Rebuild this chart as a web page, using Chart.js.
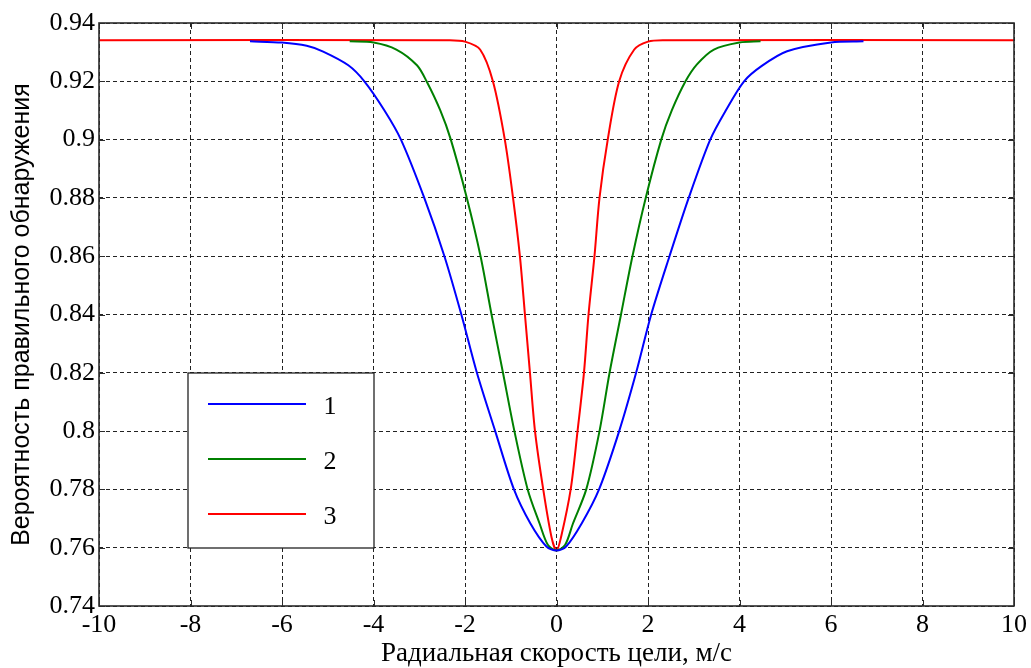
<!DOCTYPE html>
<html>
<head>
<meta charset="utf-8">
<script src="https://cdn.jsdelivr.net/npm/chart.js@4"></script>
<style>
  body { margin: 0; background: #fff; }
  #wrap { width: 1031px; height: 668px; }
</style>
</head>
<body>
<div id="wrap"><canvas id="prob-chart"></canvas></div>
<script>
// values
const seriesNames = ['1', '2', '3'];

const blueX = [-6.70, -6.0, -5.46, -5.1, -4.55, -4.2, -3.76, -3.40, -2.89, -2.45, -2.08, -1.74, -1.34, -0.93, -0.57, -0.22, 0,
               0.21, 0.55, 0.93, 1.37, 1.74, 2.07, 2.47, 2.89, 3.36, 3.70, 4.10, 4.48, 5.04, 6.0, 6.71];
const blueY = [0.9337, 0.9333, 0.9322, 0.9302, 0.9255, 0.92, 0.91, 0.90, 0.88, 0.86, 0.84, 0.82, 0.80, 0.78, 0.7683, 0.7604, 0.759,
               0.7604, 0.7683, 0.78, 0.80, 0.82, 0.84, 0.86, 0.88, 0.90, 0.91, 0.92, 0.9252, 0.9303, 0.9333, 0.9337];

const greenX = [-4.52, -4.0, -3.5, -3.05, -2.84, -2.54, -2.31, -1.96, -1.66, -1.42, -1.17, -0.92, -0.63, -0.37, -0.19, 0,
                0.19, 0.36, 0.65, 0.94, 1.16, 1.41, 1.66, 1.95, 2.29, 2.52, 2.82, 3.07, 3.44, 4.0, 4.46];
const greenY = [0.9337, 0.9333, 0.9309, 0.9255, 0.92, 0.91, 0.90, 0.88, 0.86, 0.84, 0.82, 0.80, 0.78, 0.7683, 0.761, 0.759,
                0.761, 0.7683, 0.78, 0.80, 0.82, 0.84, 0.86, 0.88, 0.90, 0.91, 0.92, 0.9258, 0.9309, 0.9333, 0.9337];

const redX = [-10, -2.33, -2.0, -1.67, -1.39, -1.13, -0.95, -0.80, -0.69, -0.58, -0.47, -0.29, -0.11, 0,
              0.10, 0.31, 0.46, 0.60, 0.70, 0.83, 0.94, 1.12, 1.37, 1.70, 2.0, 2.32, 10];
const redY = [0.9341, 0.9341, 0.9336, 0.9309, 0.92, 0.90, 0.88, 0.86, 0.84, 0.82, 0.80, 0.78, 0.7637, 0.759,
              0.7637, 0.78, 0.80, 0.82, 0.84, 0.86, 0.88, 0.90, 0.92, 0.9309, 0.9336, 0.9341, 0.9341];

const xTicks = [-10, -8, -6, -4, -2, 0, 2, 4, 6, 8, 10];
const yTicks = [0.74, 0.76, 0.78, 0.8, 0.82, 0.84, 0.86, 0.88, 0.9, 0.92, 0.94];
const yTickLabels = ['0.74', '0.76', '0.78', '0.8', '0.82', '0.84', '0.86', '0.88', '0.9', '0.92', '0.94'];

const xTitle = 'Радиальная скорость цели, м/с';
const yTitle = 'Вероятность правильного обнаружения';

function toPoints(xs, ys) {
    let pts = [];
    for (let i = 0; i < xs.length; i++) {
        pts.push({x: xs[i], y: ys[i]});
    }
    return pts;
}

const serif = '"Liberation Serif", "Times New Roman", serif';

// frame round the plot, inward ticks and the boxed legend
const framePlugin = {
    id: 'frame',
    afterDatasetsDraw(chart) {
        const ctx = chart.ctx;
        const a = chart.chartArea;
        const xs = chart.scales.x, ys = chart.scales.y;
        ctx.save();
        ctx.strokeStyle = '#2b2b2b';
        ctx.lineWidth = 1;
        ctx.beginPath();
        xTicks.forEach(v => {
            const px = Math.round(xs.getPixelForValue(v)) + 0.5;
            ctx.moveTo(px, a.bottom); ctx.lineTo(px, a.bottom - 6);
            ctx.moveTo(px, a.top); ctx.lineTo(px, a.top + 6);
        });
        yTicks.forEach(v => {
            const py = Math.round(ys.getPixelForValue(v)) + 0.5;
            ctx.moveTo(a.left, py); ctx.lineTo(a.left + 6, py);
            ctx.moveTo(a.right, py); ctx.lineTo(a.right - 6, py);
        });
        ctx.stroke();
        ctx.lineWidth = 1.6;
        ctx.strokeRect(a.left, a.top, a.right - a.left, a.bottom - a.top);

        // legend
        const bx = 188, by = 373, bw = 186, bh = 175;
        ctx.fillStyle = '#fff';
        ctx.fillRect(bx, by, bw, bh);
        ctx.lineWidth = 1.3;
        ctx.strokeStyle = '#222';
        ctx.strokeRect(bx, by, bw, bh);
        ctx.font = '26px ' + serif;
        ctx.textAlign = 'center';
        ctx.textBaseline = 'middle';
        chart.data.datasets.forEach((ds, i) => {
            const ly = by + 31 + i * 55;
            ctx.strokeStyle = ds.borderColor;
            ctx.lineWidth = 2;
            ctx.beginPath();
            ctx.moveTo(bx + 20, ly); ctx.lineTo(bx + 118, ly);
            ctx.stroke();
            ctx.fillStyle = '#000';
            ctx.fillText(ds.label, bx + 142, ly + 3);
        });
        ctx.restore();
    }
};

const colors = ['#0000ff', '#008000', '#ff0000'];
const pointSets = [toPoints(blueX, blueY), toPoints(greenX, greenY), toPoints(redX, redY)];

const chart = new Chart(document.getElementById('prob-chart'), {
    type: 'scatter',
    data: {
        datasets: pointSets.map((pts, i) => ({
            label: seriesNames[i],
            data: pts,
            showLine: true,
            borderColor: colors[i],
            backgroundColor: colors[i],
            borderWidth: 2,
            pointRadius: 0,
            tension: 0.3
        }))
    },
    options: {
        responsive: true,
        maintainAspectRatio: false,
        animation: false,
        layout: { padding: { top: 23, right: 15, left: 0, bottom: 0 } },
        plugins: {
            legend: { display: false },
            tooltip: { enabled: false }
        },
        scales: {
            x: {
                type: 'linear',
                min: -10, max: 10,
                afterBuildTicks: s => { s.ticks = xTicks.map(v => ({value: v})); },
                afterFit: s => { s.height = 62; },
                grid: { color: '#222', lineWidth: 1, drawTicks: false },
                border: { display: false, dash: [4, 3] },
                ticks: {
                    color: '#000',
                    padding: 4,
                    font: { family: serif, size: 26 },
                    maxRotation: 0,
                    callback: v => String(v)
                },
                title: {
                    display: true,
                    text: xTitle,
                    color: '#000',
                    font: { family: serif, size: 27, lineHeight: 1 },
                    padding: { top: 0, bottom: 1 }
                }
            },
            y: {
                type: 'linear',
                min: 0.74, max: 0.94,
                afterBuildTicks: s => { s.ticks = yTicks.map(v => ({value: v})); },
                afterFit: s => { s.width = 99; },
                grid: { color: '#222', lineWidth: 1, drawTicks: false },
                border: { display: false, dash: [4, 3] },
                ticks: {
                    color: '#000',
                    padding: 4,
                    font: { family: serif, size: 26 },
                    callback: (v, i) => yTickLabels[i]
                },
                title: {
                    display: true,
                    text: yTitle,
                    color: '#000',
                    font: { family: '"Liberation Sans", Arial, sans-serif', size: 25, lineHeight: 1 },
                    padding: { top: 10, bottom: 0 }
                }
            }
        }
    },
    plugins: [framePlugin]
});
</script>
</body>
</html>
